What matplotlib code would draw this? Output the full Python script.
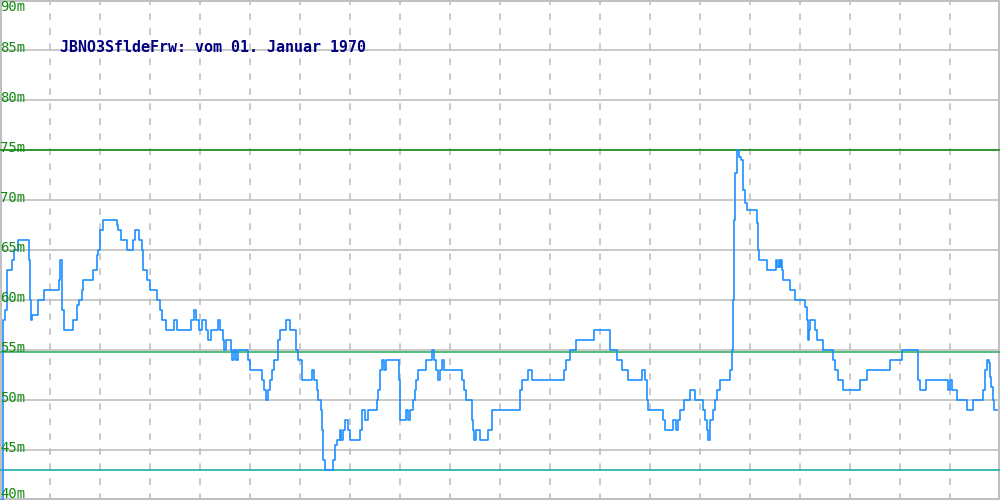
import matplotlib
matplotlib.use("Agg")
import matplotlib.pyplot as plt

# step series: sample position -> level (m)
t = [0, 3, 5, 7, 12, 14, 18, 28, 29, 30, 31, 32, 38, 44, 59, 60, 62, 64, 73, 77,
     79, 82, 83, 93, 97, 98, 100, 103, 117, 118, 121, 127, 133, 135, 139, 142, 143,
     147, 150, 157, 160, 162, 166, 174, 177, 191, 194, 196, 199, 202, 206, 208, 211,
     218, 220, 223, 224, 226, 231, 232, 234, 236, 238, 248, 250, 262, 264, 266, 268,
     270, 272, 274, 278, 280, 286, 290, 296, 298, 302, 312, 314, 317, 318, 321, 322,
     323, 325, 333, 335, 337, 340, 341, 343, 345, 348, 350, 360, 362, 365, 368, 377,
     378, 380, 382, 384, 386, 399, 400, 406, 408, 410, 413, 415, 416, 418, 426, 432,
     434, 436, 438, 440, 442, 444, 462, 464, 466, 472, 473, 474, 476, 480, 488, 492,
     520, 522, 528, 532, 564, 566, 570, 576, 594, 610, 617, 622, 628, 642, 645, 647,
     648, 663, 665, 667, 673, 676, 678, 680, 684, 690, 695, 703, 705, 707, 708, 710,
     713, 715, 717, 720, 730, 732, 733, 734, 735, 737, 739, 741, 743, 745, 747, 757,
     758, 759, 767, 776, 777, 779, 780, 781, 782, 783, 790, 795, 805, 807, 808, 809,
     810, 815, 817, 823, 833, 835, 838, 843, 860, 867, 890, 902, 918, 920, 926, 948,
     950, 952, 957, 967, 973, 983, 985, 987, 989, 990, 991, 993, 994, 997]
level = [40, 58, 59, 63, 64, 65, 66, 66, 64, 60, 58, 58.5, 60, 61, 62, 64, 59, 57, 58, 59.5,
         60, 61, 62, 63, 64.5, 65, 67, 68, 67.5, 67, 66, 65, 66, 67, 66, 65, 63,
         62, 61, 60, 59, 58, 57, 58, 57, 58, 59, 58, 57, 58, 57, 56, 57,
         58, 57, 56, 55, 56, 55, 54, 55, 54, 55, 54, 53, 52, 51, 50, 51,
         52, 53, 54, 56, 57, 58, 57, 55, 54, 52, 53, 52, 51, 50, 49, 47,
         44, 43, 44, 45.5, 46, 47, 46, 47, 48, 47, 46, 47, 49, 48, 49, 50,
         51, 53, 54, 53, 54, 52, 48, 49, 48, 49, 50, 51, 52, 53, 54, 55,
         54, 53, 52, 53, 54, 53, 52, 51, 50, 48, 47, 46, 47, 46, 47, 49,
         51, 52, 53, 52, 53, 54, 55, 56, 57, 55, 54, 53, 52, 53, 52, 50,
         49, 48, 47, 47, 48, 47, 48, 49, 50, 51, 50, 49, 48, 47, 46, 48,
         49, 50, 51, 52, 53, 55, 60, 68, 72.7, 75, 74.3, 74, 71, 69.7, 69, 67.7,
         65, 64, 63, 64, 63.3, 64, 63.3, 64, 63, 62, 61, 60, 59.3, 58, 56, 57,
         58, 57, 56, 55, 54, 53, 52, 51, 52, 53, 54, 55, 52, 51, 52, 51,
         52, 51, 50, 49, 50, 51, 53, 54, 53.7, 52.3, 51.3, 50, 49, 49]

yticks = [40, 45, 50, 55, 60, 65, 70, 75, 80, 85, 90]
xgrid = list(range(50, 1000, 50))
limit_hi = 75
limit_mid = 54.77
limit_lo = 43
title = "JBNO3SfldeFrw: vom 01. Januar 1970"

fig = plt.figure(figsize=(10, 5), dpi=100)
ax = fig.add_axes([0, 0, 1, 1])
ax.set_xlim(0, 1000)
ax.set_ylim(40, 90)
ax.axis("off")

grey = "#c0c0c0"
for v in yticks[1:-1]:
    ax.axhline(v, color=grey, linewidth=1.2, zorder=1)
for x in xgrid:
    ax.axvline(x, color=grey, linewidth=1.2, linestyle=(0, (4, 5)), zorder=1)
# frame
ax.axvline(0.8, color=grey, linewidth=1.5, zorder=1)
ax.axvline(999.2, color=grey, linewidth=1.5, zorder=1)
ax.axhline(89.95, color=grey, linewidth=1.5, zorder=1)
ax.axhline(40.08, color=grey, linewidth=1.5, zorder=1)

ax.axhline(limit_hi, color="#1a8c1a", linewidth=1.2, zorder=2)
ax.axhline(limit_mid, color="#33b266", linewidth=1.2, zorder=2)
ax.axhline(limit_lo, color="#1ab2a8", linewidth=1.2, zorder=2)

ax.plot(t, level, drawstyle="steps-post", color="#1e90ff", linewidth=1.2, zorder=3)

for v in yticks:
    y = v + 0.2
    if v == 90:
        y = 89.3
    elif v == 40:
        y = 40.65
    ax.text(0, y, f"{v}m", color="#118811", fontsize=10, family="DejaVu Sans Mono",
            va="center", ha="left", zorder=4)

ax.text(60, 85.25, title, color="#000080", fontsize=10.8, family="DejaVu Sans Mono",
        fontweight="bold", va="center", ha="left", zorder=4)

fig.savefig("out.png", dpi=100)
